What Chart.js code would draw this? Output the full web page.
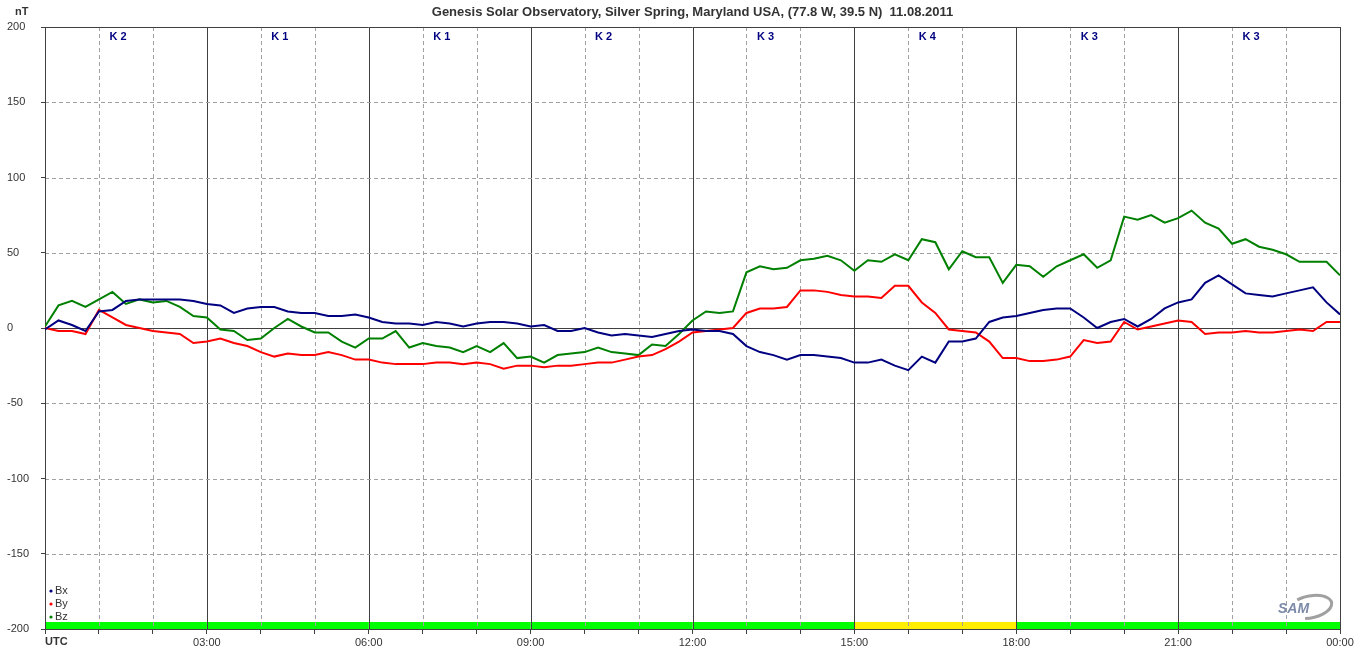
<!DOCTYPE html>
<html>
<head>
<meta charset="utf-8">
<script src="https://cdn.jsdelivr.net/npm/chart.js@4/dist/chart.umd.min.js"></script>
<style>
  html, body { margin: 0; padding: 0; background: #fff; }
  #wrap { width: 1360px; height: 657px; position: relative; }
</style>
</head>
<body>
<div id="wrap"><canvas id="chart"></canvas></div>
<script>
// Magnetometer readings, one value every 15 minutes from 00:00 to 24:00 UTC (nT)
const bx = [
  -1, 5, 2, -2, 11, 12, 18, 19, 19, 19, 19, 18,
  16, 15, 10, 13, 14, 14, 11, 10, 10, 8, 8, 9,
  7, 4, 3, 3, 2, 4, 3, 1, 3, 4, 4, 3,
  1, 2, -2, -2, 0, -3, -5, -4, -5, -6, -4, -2,
  -1, -2, -2, -4, -12, -16, -18, -21, -18, -18, -19, -20,
  -23, -23, -21, -25, -28, -19, -23, -9, -9, -7, 4, 7,
  8, 10, 12, 13, 13, 7, 0, 4, 6, 1, 6, 13,
  17, 19, 30, 35, 29, 23, 22, 21, 23, 25, 27, 17,
  9
];
const by = [
  0, -2, -2, -4, 12, 7, 2, 0, -2, -3, -4, -10,
  -9, -7, -10, -12, -16, -19, -17, -18, -18, -16, -18, -21,
  -21, -23, -24, -24, -24, -23, -23, -24, -23, -24, -27, -25,
  -25, -26, -25, -25, -24, -23, -23, -21, -19, -18, -14, -9,
  -3, -2, -1, 0, 10, 13, 13, 14, 25, 25, 24, 22,
  21, 21, 20, 28, 28, 17, 10, -1, -2, -3, -9, -20,
  -20, -22, -22, -21, -19, -8, -10, -9, 4, -1, 1, 3,
  5, 4, -4, -3, -3, -2, -3, -3, -2, -1, -2, 4,
  4
];
const bz = [
  1, 15, 18, 14, 19, 24, 16, 19, 17, 18, 14, 8,
  7, -1, -2, -8, -7, 0, 6, 1, -3, -3, -9, -13,
  -7, -7, -2, -13, -10, -12, -13, -16, -12, -16, -10, -20,
  -19, -23, -18, -17, -16, -13, -16, -17, -18, -11, -12, -4,
  5, 11, 10, 11, 37, 41, 39, 40, 45, 46, 48, 45,
  38, 45, 44, 49, 45, 59, 57, 39, 51, 47, 47, 30,
  42, 41, 34, 41, 45, 49, 40, 45, 74, 72, 75, 70,
  73, 78, 70, 66, 56, 59, 54, 52, 49, 44, 44, 44,
  35
];
// K index per 3-hour block
const kIndex = [2, 1, 1, 2, 3, 4, 3, 3];

const FONT = '"Liberation Sans", Arial, sans-serif';
const seriesNames  = ['Bx', 'By', 'Bz'];
const seriesColors = ['#000080', '#ff0000', '#008000'];
const STEP_H = 0.25;

const toPoints = arr => arr.map((v, i) => ({ x: i * STEP_H, y: v }));
const hh = h => String(h % 24).padStart(2, '0') + ':00';

const decor = {
  id: 'decor',
  beforeDatasetsDraw(chart) {
    const { ctx, chartArea: a, scales: { x, y } } = chart;
    ctx.save();

    // activity band along the bottom
    kIndex.forEach((k, i) => {
      const x0 = x.getPixelForValue(i * 3), x1 = x.getPixelForValue(i * 3 + 3);
      ctx.fillStyle = k >= 4 ? '#ffee00' : '#00ff00';
      ctx.fillRect(x0, a.bottom - 7, x1 - x0, 7);
    });

    // vertical grid
    ctx.lineWidth = 1;
    for (let h = 1; h <= 24; h++) {
      const px = Math.round(x.getPixelForValue(h)) + 0.5;
      ctx.beginPath();
      if (h % 3 === 0) { ctx.setLineDash([]); ctx.strokeStyle = '#404040'; }
      else { ctx.setLineDash([4, 3]); ctx.strokeStyle = '#a0a0a0'; }
      ctx.moveTo(px, a.top); ctx.lineTo(px, a.bottom);
      ctx.stroke();
    }
    // horizontal grid
    for (let v = -200; v <= 200; v += 50) {
      const py = Math.round(y.getPixelForValue(v)) + 0.5;
      ctx.beginPath();
      if (v === 0 || Math.abs(v) === 200) { ctx.setLineDash([]); ctx.strokeStyle = '#404040'; }
      else { ctx.setLineDash([4, 3]); ctx.strokeStyle = '#a0a0a0'; }
      ctx.moveTo(a.left, py); ctx.lineTo(a.right, py);
      ctx.stroke();
    }
    ctx.setLineDash([]);
    ctx.strokeStyle = '#404040';
    ctx.beginPath();
    ctx.moveTo(Math.round(a.left) + 0.5, a.top);
    ctx.lineTo(Math.round(a.left) + 0.5, a.bottom);
    ctx.stroke();

    // K labels
    ctx.fillStyle = '#000080';
    ctx.font = 'bold 11px ' + FONT;
    ctx.textAlign = 'center';
    ctx.textBaseline = 'middle';
    kIndex.forEach((k, i) => {
      ctx.fillText('K ' + k, x.getPixelForValue(i * 3 + 1.5) - 8, a.top + 10);
    });
    ctx.restore();
  },
  afterDraw(chart) {
    const { ctx, chartArea: a } = chart;
    ctx.save();
    ctx.textBaseline = 'middle';

    ctx.fillStyle = '#333';
    ctx.font = 'bold 13px ' + FONT;
    ctx.textAlign = 'center';
    ctx.fillText('Genesis Solar Observatory, Silver Spring, Maryland USA, (77.8 W, 39.5 N)  11.08.2011',
      (a.left + a.right) / 2, 12);

    ctx.font = 'bold 11px ' + FONT;
    ctx.textAlign = 'left';
    ctx.fillText('nT', 15, 12);
    ctx.fillText('UTC', a.left, a.bottom + 13);

    // legend
    ctx.font = '11px ' + FONT;
    seriesNames.forEach((n, i) => {
      const ly = a.bottom - 38 + i * 13;
      ctx.fillStyle = seriesColors[i];
      ctx.beginPath(); ctx.arc(a.left + 6, ly, 1.6, 0, Math.PI * 2); ctx.fill();
      ctx.fillStyle = '#333';
      ctx.fillText(n, a.left + 10, ly);
    });

    // SAM logo
    ctx.strokeStyle = '#a0a0a0';
    ctx.lineWidth = 3;
    ctx.beginPath();
    ctx.ellipse(1310, 607, 22, 11, -0.2, -2.1, 1.9);
    ctx.stroke();
    ctx.font = 'italic bold 14px ' + FONT;
    ctx.fillStyle = '#7c8aa8';
    ctx.fillText('SAM', 1278, 609);
    ctx.restore();
  }
};

new Chart(document.getElementById('chart'), {
  type: 'line',
  data: {
    datasets: seriesNames.map((n, i) => ({
      label: n,
      data: toPoints([bx, by, bz][i]),
      borderColor: seriesColors[i],
      borderWidth: 2,
      pointRadius: 0,
      tension: 0,
    })),
  },
  options: {
    responsive: true,
    maintainAspectRatio: false,
    animation: false,
    events: [],
    layout: { padding: { top: 27, right: 20, left: 7, bottom: 0 } },
    plugins: { legend: { display: false }, title: { display: false }, tooltip: { enabled: false } },
    scales: {
      x: {
        type: 'linear', min: 0, max: 24,
        afterFit: s => { s.height = 28; },
        ticks: {
          stepSize: 1, autoSkip: false, maxRotation: 0, padding: 2,
          color: '#333', font: { family: FONT, size: 11 },
          callback: v => (v > 0 && v % 3 === 0) ? hh(v) : '',
        },
        grid: { drawOnChartArea: false, drawTicks: true, tickLength: 5, color: '#404040' },
        border: { display: true, color: '#404040' },
      },
      y: {
        min: -200, max: 200,
        afterFit: s => { s.width = 38; },
        ticks: { stepSize: 50, padding: 8, crossAlign: 'far', color: '#333', font: { family: FONT, size: 11 } },
        grid: { drawOnChartArea: false, drawTicks: true, tickLength: 4, color: '#404040' },
        border: { display: false },
      },
    },
  },
  plugins: [decor],
});
</script>
</body>
</html>
